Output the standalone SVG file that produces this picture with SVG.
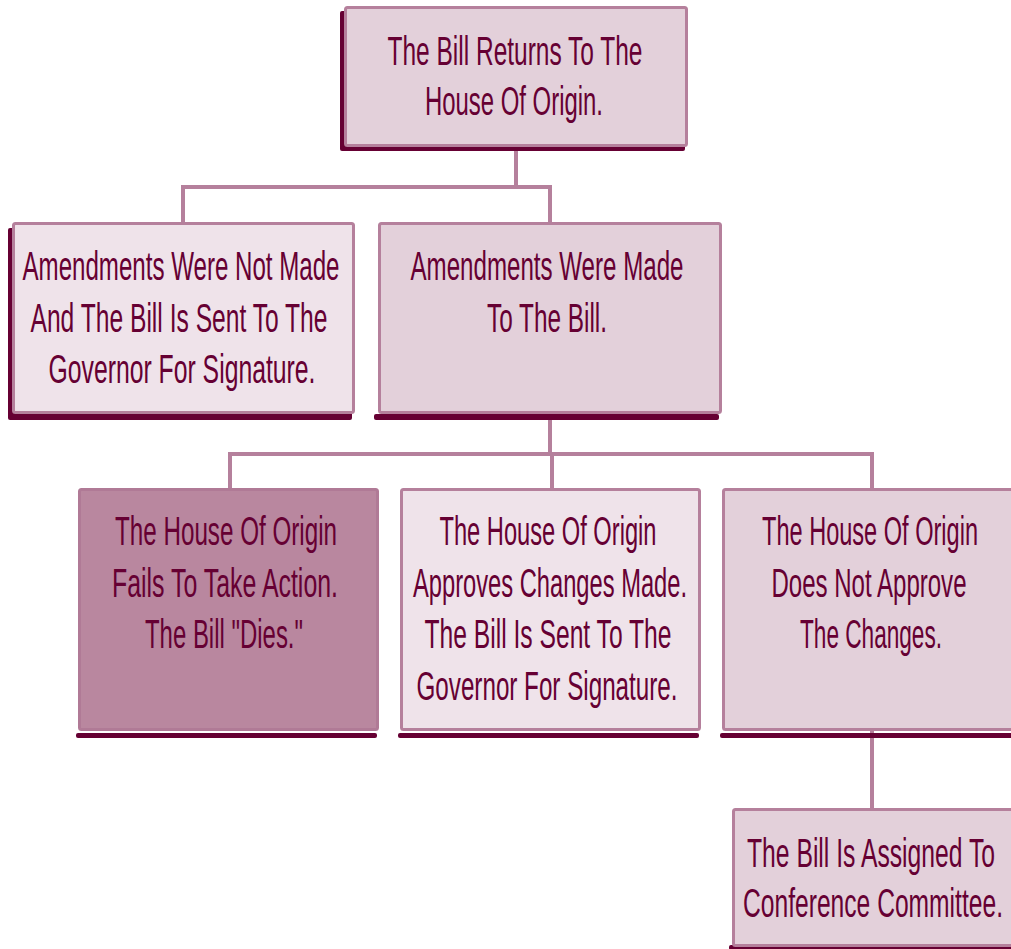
<svg xmlns="http://www.w3.org/2000/svg" width="1011" height="949" viewBox="0 0 1011 949">
<style>
.box{stroke:#b5809c;stroke-width:3}
.mid{fill:#e3d0da}
.light{fill:#efe3ea}
.dark{fill:#b9879f;stroke:#b07a96}
.sh{fill:#660033}
.conn{fill:none;stroke:#b5809c;stroke-width:4;stroke-linejoin:miter}
text{font-family:"Liberation Sans Narrow","Liberation Sans",Arial,sans-serif;font-size:40px;fill:#660033;text-anchor:middle}
</style>
<rect width="1011" height="949" fill="#ffffff"/>
<g id="connectors">
<path class="conn" d="M516,147 V187 M183,222 V187 H550 V222"/>
<path class="conn" d="M550,414 V454 M230,489 V454 H872 V489 M552,454 V489"/>
<path class="conn" d="M872,731 V809"/>
</g>
<g id="n-return">
<rect class="sh" x="340" y="11" width="345" height="140" rx="2"/>
<rect class="box mid" x="345.5" y="7.5" width="341" height="138" rx="2"/>
<text x="515" y="65" textLength="255" lengthAdjust="spacingAndGlyphs">The Bill Returns To The</text>
<text x="514" y="115" textLength="178" lengthAdjust="spacingAndGlyphs">House Of Origin.</text>
</g>
<g id="n-notmade">
<rect class="sh" x="8" y="228" width="344" height="192" rx="2"/>
<rect class="box light" x="13.5" y="223.5" width="340" height="189" rx="2"/>
<text x="181" y="280" textLength="317" lengthAdjust="spacingAndGlyphs">Amendments Were Not Made</text>
<text x="179" y="332" textLength="297" lengthAdjust="spacingAndGlyphs">And The Bill Is Sent To The</text>
<text x="182" y="383" textLength="267" lengthAdjust="spacingAndGlyphs">Governor For Signature.</text>
</g>
<g id="n-made">
<rect class="sh" x="374" y="414" width="345" height="6" rx="2"/>
<rect class="box mid" x="379.5" y="223.5" width="341" height="189" rx="2"/>
<text x="547" y="280" textLength="273" lengthAdjust="spacingAndGlyphs">Amendments Were Made</text>
<text x="547" y="332" textLength="120" lengthAdjust="spacingAndGlyphs">To The Bill.</text>
</g>
<g id="n-fails">
<rect class="sh" x="76" y="733" width="301" height="5" rx="2"/>
<rect class="box dark" x="79.5" y="489.5" width="298" height="240" rx="2"/>
<text x="226" y="545" textLength="222" lengthAdjust="spacingAndGlyphs">The House Of Origin</text>
<text x="225" y="597" textLength="226" lengthAdjust="spacingAndGlyphs">Fails To Take Action.</text>
<text x="224" y="648" textLength="158" lengthAdjust="spacingAndGlyphs">The Bill "Dies."</text>
</g>
<g id="n-approves">
<rect class="sh" x="398" y="733" width="301" height="5" rx="2"/>
<rect class="box light" x="401.5" y="489.5" width="298" height="240" rx="2"/>
<text x="548" y="545" textLength="217" lengthAdjust="spacingAndGlyphs">The House Of Origin</text>
<text x="550" y="597" textLength="274" lengthAdjust="spacingAndGlyphs">Approves Changes Made.</text>
<text x="548" y="648" textLength="247" lengthAdjust="spacingAndGlyphs">The Bill Is Sent To The</text>
<text x="547" y="700" textLength="261" lengthAdjust="spacingAndGlyphs">Governor For Signature.</text>
</g>
<g id="n-notapprove">
<rect class="sh" x="720" y="733" width="300" height="5" rx="2"/>
<rect class="box mid" x="723.5" y="489.5" width="300" height="240" rx="2"/>
<text x="870" y="545" textLength="216" lengthAdjust="spacingAndGlyphs">The House Of Origin</text>
<text x="869" y="597" textLength="195" lengthAdjust="spacingAndGlyphs">Does Not Approve</text>
<text x="871" y="648" textLength="142" lengthAdjust="spacingAndGlyphs">The Changes.</text>
</g>
<g id="n-conference">
<rect class="sh" x="729" y="945" width="290" height="5" rx="2"/>
<rect class="box mid" x="733.5" y="809.5" width="290" height="136" rx="2"/>
<text x="871" y="867" textLength="248" lengthAdjust="spacingAndGlyphs">The Bill Is Assigned To</text>
<text x="873" y="917" textLength="260" lengthAdjust="spacingAndGlyphs">Conference Committee.</text>
</g>
</svg>
